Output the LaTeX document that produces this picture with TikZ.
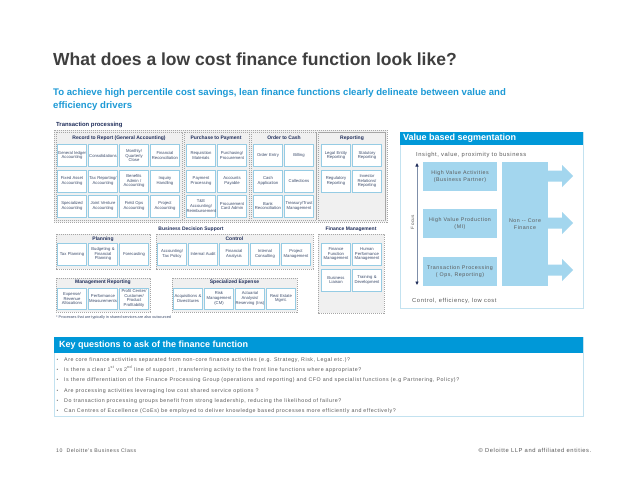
\documentclass[tikz,border=0pt]{standalone}
\usepackage{fontspec}
\setmainfont{Liberation Sans}
\newfontfamily\lsp[LetterSpace=10]{Liberation Sans}
\usetikzlibrary{arrows.meta}
\definecolor{dblue}{HTML}{0098D8}
\definecolor{subblue}{HTML}{1D9AD6}
\definecolor{lblue}{HTML}{A3D6EE}
\definecolor{pborder}{HTML}{C3E2F0}
\definecolor{navy}{HTML}{1F2D5A}
\definecolor{btext}{HTML}{3B4B6B}
\definecolor{bborder}{HTML}{96CCE4}
\definecolor{ttl}{HTML}{3F3F3F}
\definecolor{gtext}{HTML}{595959}
\definecolor{grpfill}{HTML}{F0F0F0}
\definecolor{grpline}{HTML}{A6A6A6}
\definecolor{axisline}{HTML}{7F8FA9}
\begin{document}
\begin{tikzpicture}[x=1pt,y=-1pt,
 tbox/.style={draw=bborder, fill=white, line width=0.5pt, minimum width=29pt, minimum height=22pt, inner sep=0pt, align=center, text width=29pt, font=\fontsize{4.2}{4.7}\selectfont, text=btext},
 grp/.style={draw=grpline, fill=grpfill, dash pattern=on 1.2pt off 0.8pt, line width=0.4pt},
 gtitle/.style={font=\bfseries\fontsize{5}{6}\selectfont, text=navy, inner sep=0pt},
 vbox/.style={fill=lblue, draw=none, align=center, text=gtext, font=\lsp\fontsize{5.3}{7.5}\selectfont, inner sep=0pt},
 harrow/.style={fill=lblue, draw=none},
 bul/.style={anchor=base west, inner sep=0pt, text=gtext, font=\lsp\fontsize{5.3}{6}\selectfont},
 dot/.style={anchor=base west, inner sep=0pt, text=gray, font=\fontsize{5}{6}\selectfont},
 foot/.style={inner sep=0pt, text=gtext, font=\lsp\fontsize{5.4}{6}\selectfont},
]
\useasboundingbox (0,0) rectangle (638,493);
\fill[white] (0,0) rectangle (638,493);

% ---------- title ----------
\node[anchor=base west, inner sep=0pt, text=ttl, font=\bfseries\fontsize{17.5}{20}\selectfont] (title) at (53,65) {What does a low cost finance function look like?};
\node[anchor=north west, inner sep=0pt, text=subblue, align=left, font=\bfseries\fontsize{9.6}{12.4}\selectfont] (sub) at (53,88.5) {To achieve high percentile cost savings, lean finance functions clearly delineate between value and\\efficiency drivers};

% ---------- transaction processing ----------
\node[anchor=west, font=\bfseries\fontsize{5.9}{7}\selectfont, text=navy, inner sep=0pt] (tptitle) at (56,125) {Transaction processing};
\draw[grp] (54,130) rectangle (387,222);
\draw[grp] (56,132) rectangle (182,220);
\draw[grp] (184,132) rectangle (249,220);
\draw[grp] (251,132) rectangle (316.5,220);
\draw[grp] (318.5,132) rectangle (385,220);

\node[gtitle] (r2rt) at (119,138) {Record to Report (General Accounting)};
\node[gtitle] (p2pt) at (216,138) {Purchase to Payment};
\node[gtitle] (o2ct) at (284,138) {Order to Cash};
\node[gtitle] (rept) at (352,138) {Reporting};

% R2R
\node[tbox] (r11) at (72,155.5) {General ledger\\Accounting};
\node[tbox] (r12) at (103,155.5) {Consolidations};
\node[tbox] (r13) at (134,155.5) {Monthly/\\Quarterly\\Close};
\node[tbox] (r14) at (165,155.5) {Financial\\Reconciliation};
\node[tbox] (r21) at (72,181) {Fixed Asset\\Accounting};
\node[tbox] (r22) at (103,181) {Tax Reporting/\\Accounting};
\node[tbox] (r23) at (134,181) {Benefits\\Admin /\\Accounting};
\node[tbox] (r24) at (165,181) {Inquiry\\Handling};
\node[tbox] (r31) at (72,206) {Specialized\\Accounting};
\node[tbox] (r32) at (103,206) {Joint Venture\\Accounting};
\node[tbox] (r33) at (134,206) {Field Ops\\Accounting};
\node[tbox] (r34) at (165,206) {Project\\Accounting};
% P2P
\node[tbox] (p11) at (201,155.5) {Requisition\\Materials};
\node[tbox] (p12) at (232,155.5) {Purchasing/\\Procurement};
\node[tbox] (p21) at (201,181) {Payment\\Processing};
\node[tbox] (p22) at (232,181) {Accounts\\Payable};
\node[tbox] (p31) at (201,206) {T\&E\\Accounting/\\Reimbursement};
\node[tbox] (p32) at (232,206) {Procurement\\Card Admin};
% O2C
\node[tbox] (o11) at (268,155.5) {Order Entry};
\node[tbox] (o12) at (299,155.5) {Billing};
\node[tbox] (o21) at (268,181) {Cash\\Application};
\node[tbox] (o22) at (299,181) {Collections};
\node[tbox] (o31) at (268,206) {Bank\\Reconciliation};
\node[tbox] (o32) at (299,206) {Treasury/Trust\\Management};
% Reporting
\node[tbox] (e11) at (336,155.5) {Legal Entity\\Reporting};
\node[tbox] (e12) at (367,155.5) {Statutory\\Reporting};
\node[tbox] (e21) at (336,181) {Regulatory\\Reporting};
\node[tbox] (e22) at (367,181) {Investor\\Relations/\\Reporting};

% ---------- business decision support ----------
\node[gtitle] (bdst) at (191,229) {Business Decision Support};
\node[gtitle] (fmt) at (351,229) {Finance Management};

\draw[grp] (56,234) rectangle (150,269);
\draw[grp] (156,234) rectangle (313,269);
\draw[grp] (56,278) rectangle (150,312);
\draw[grp] (172,278) rectangle (297,312);
\draw[grp] (318,234) rectangle (384,313);

\node[gtitle] (plt) at (103,239) {Planning};
\node[gtitle] (ctt) at (234.5,239) {Control};
\node[gtitle] (mrt) at (103,282.5) {Management Reporting};
\node[gtitle] (set) at (234.5,282.5) {Specialized Expense};

\node[tbox] (pl1) at (72,254) {Tax Planning};
\node[tbox] (pl2) at (103,254) {Budgeting \&\\Financial\\Planning};
\node[tbox] (pl3) at (134,254) {Forecasting};

\node[tbox] (c1) at (172,254) {Accounting/\\Tax Policy};
\node[tbox] (c2) at (203,254) {Internal Audit};
\node[tbox] (c3) at (234,254) {Financial\\Analysis};
\node[tbox] (c4) at (265,254) {Internal\\Consulting};
\node[tbox] (c5) at (296,254) {Project\\Management};

\node[tbox, minimum height=21pt] (m1) at (72,298.5) {Expense/\\Revenue\\Allocations};
\node[tbox, minimum height=21pt] (m2) at (103,298.5) {Performance\\Measurements};
\node[tbox, minimum height=21pt] (m3) at (134,298.5) {Profit Center/\\Customer/\\Product\\Profitability};

\node[tbox, minimum height=21pt] (s1) at (188,298.5) {Acquisitions \&\\Divestitures};
\node[tbox, minimum height=21pt] (s2) at (219,298.5) {Risk\\Management\\(CM)};
\node[tbox, minimum height=21pt] (s3) at (250,298.5) {Actuarial\\Analysis/\\Reserving (Ins)};
\node[tbox, minimum height=21pt] (s4) at (281,298.5) {Real Estate\\Mgmt.};

\node[tbox] (f1) at (336,254) {Finance\\Function\\Management};
\node[tbox] (f2) at (367,254) {Human\\Performance\\Management};
\node[tbox] (f3) at (336,280) {Business\\Liaison};
\node[tbox] (f4) at (367,280) {Training \&\\Development};

\node[anchor=west, inner sep=0pt, font=\fontsize{3.8}{4}\selectfont, text=btext] (fn) at (56,317.5) {* Processes that are typically in shared services are also outsourced};

% ---------- value based segmentation ----------
\draw[draw=pborder, line width=0.6pt] (400,132) rectangle (583,308);
\fill[dblue] (400,132) rectangle (583,144.5);
\node[anchor=west, inner sep=0pt, text=white, font=\bfseries\fontsize{9}{10}\selectfont] (vbst) at (403,138.5) {Value based segmentation};
\node[anchor=west, inner sep=0pt, text=gtext, font=\lsp\fontsize{5.8}{7}\selectfont] (ins) at (416,155) {Insight, value, proximity to business};
\node[anchor=west, inner sep=0pt, text=gtext, font=\lsp\fontsize{5.8}{7}\selectfont] (ctl) at (412,301) {Control, efficiency, low cost};

\node[vbox, minimum width=74pt, minimum height=29pt] (hva) at (460,176.5) {High Value Activities\\(Business Partner)};
\node[vbox, minimum width=74pt, minimum height=29pt] (hvp) at (460,223.5) {High Value Production\\(MI)};
\node[vbox, minimum width=74pt, minimum height=29pt] (tpv) at (460,271.5) {Transaction Processing\\( Ops, Reporting)};
\node[vbox, minimum width=46pt, minimum height=124pt] (nc) at (525,224) {Non -- Core\\Finance};

\foreach \c in {176,223,270}{
  \fill[harrow] (548,\c-5.5) -- (562,\c-5.5) -- (562,\c-11) -- (573,\c) -- (562,\c+11) -- (562,\c+5.5) -- (548,\c+5.5) -- cycle;
}

\coordinate (ftop) at (417,163);
\coordinate (fbot) at (417,285);
\draw[axisline, line width=0.9pt, {Triangle[length=3.5pt,width=3pt,color=navy]}-{Triangle[length=3.5pt,width=3pt,color=navy]}] (ftop) -- (fbot);
\node[rotate=90, inner sep=0pt, text=gtext, font=\lsp\fontsize{4.6}{5}\selectfont] (focus) at (412.5,222) {Focus};

% ---------- key questions ----------
\draw[draw=pborder, line width=0.6pt] (54,337) rectangle (583,416);
\fill[dblue] (54,337) rectangle (583,352.7);
\node[anchor=west, inner sep=0pt, text=white, font=\bfseries\fontsize{9}{10}\selectfont] (kqt) at (59,345) {Key questions to ask of the finance function};

\foreach \y/\t [count=\i] in {
 361/{Are core finance activities separated from non-core finance activities (e.g. Strategy, Risk, Legal etc.)?},
 371/{Is there a clear 1\textsuperscript{st} vs 2\textsuperscript{nd} line of support , transferring activity to the front line functions where appropriate?},
 381.3/{Is there differentiation of the Finance Processing Group (operations and reporting) and CFO and specialist functions (e.g Partnering, Policy)?},
 392/{Are processing activities leveraging low cost shared service options ?},
 402.2/{Do transaction processing groups benefit from strong leadership, reducing the likelihood of failure?},
 412.2/{Can Centres of Excellence (CoEs) be employed to deliver knowledge based processes more efficiently and effectively?}}{
  \node[dot] (d\i) at (56.5,\y) {•};
  \node[bul] (q\i) at (64,\y) {\t};
}

% ---------- footer ----------
\node[foot, anchor=base west, font=\lsp\fontsize{5.2}{6}\selectfont] (fl) at (56,452.5) {10\hspace{4pt}Deloitte's Business Class};
\node[foot, anchor=base east, font=\lsp\fontsize{5.8}{6}\selectfont] (fr) at (591.5,452.5) {© Deloitte LLP and affiliated entities.};
\end{tikzpicture}
\end{document}
